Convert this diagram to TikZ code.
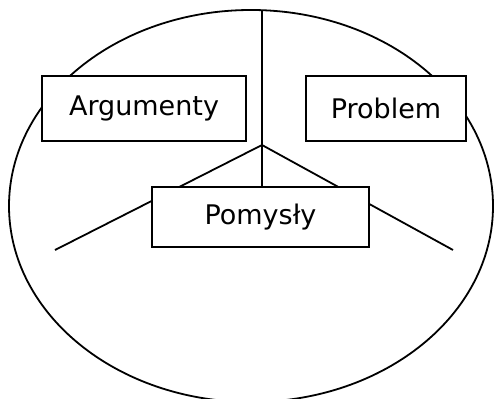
\documentclass[tikz,border=0pt]{standalone}
\usepackage{fontspec}
\setmainfont{DejaVu Sans}
\usetikzlibrary{shapes.geometric}
\tikzset{
  pole/.style={rectangle,draw,fill=white,line width=1.8pt,inner sep=0pt,
    minimum height=65pt,font=\fontsize{27}{30}\selectfont},
  linia/.style={line width=1.8pt},
  owal/.style={ellipse,draw,line width=1.8pt,inner sep=0pt},
}
\begin{document}
\begin{tikzpicture}[x=1pt,y=-1pt]
  \useasboundingbox (0,0) rectangle (494,398);
  \clip (0,0) rectangle (494,398);
  % tlo: owal
  \node[owal,minimum width=484pt,minimum height=392pt] (kolo) at (251,206) {};
  \coordinate (srodek) at (262,145);
  \coordinate (gora) at (262,11);
  \coordinate (lewy) at (55,250);
  \coordinate (prawy) at (453,250);
  \draw[linia] (gora) -- (srodek) -- (lewy);
  \draw[linia] (srodek) -- (prawy);
  % pola
  \node[pole,minimum width=204pt] (arg) at (144,108.5) {Argumenty};
  \node[pole,minimum width=160pt] (prob) at (386,108.5) {Problem};
  \node[pole,minimum width=217pt,minimum height=60pt] (pom) at (260.5,217) {Pomysły};
  \draw[linia] (srodek) -- (srodek |- pom.north);
\end{tikzpicture}
\end{document}
